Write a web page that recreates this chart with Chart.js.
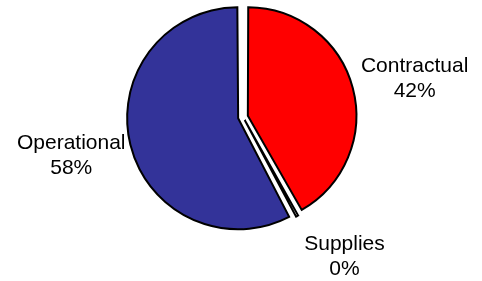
<!DOCTYPE html>
<html>
<head>
<meta charset="utf-8">
<script src="https://cdn.jsdelivr.net/npm/chart.js@4/dist/chart.umd.min.js"></script>
<style>
html,body{margin:0;padding:0;background:#fff;}
#wrap{width:482px;height:281px;}
</style>
</head>
<body>
<div id="wrap"><canvas id="c" width="482" height="281"></canvas></div>
<script>
const categories = ["Contractual", "Supplies", "Operational"];
const values = [42, 0.5, 58];
const percentLabels = ["42%", "0%", "58%"];
const colors = ["#FF0000", "#FFFFFF", "#333399"];

// label placement relative to slice geometry: [distance beyond radius, angle tweak in degrees]
const labelPlacement = [[70, 2.0], [66, -7.5], [70, 1.3]];

const outsideLabels = {
  id: 'outsideLabels',
  afterDatasetsDraw(chart) {
    const ctx = chart.ctx;
    const meta = chart.getDatasetMeta(0);
    ctx.save();
    ctx.font = '21px "Liberation Sans", Arial, sans-serif';
    ctx.fillStyle = '#000';
    ctx.textAlign = 'center';
    ctx.textBaseline = 'middle';
    meta.data.forEach((arc, i) => {
      const p = arc.getProps(['x', 'y', 'startAngle', 'endAngle', 'outerRadius'], true);
      const mid = (p.startAngle + p.endAngle) / 2 + labelPlacement[i][1] * Math.PI / 180;
      const d = p.outerRadius + labelPlacement[i][0];
      const lx = p.x + Math.cos(mid) * d;
      const ly = p.y + Math.sin(mid) * d;
      ctx.fillText(categories[i], lx, ly - 12);
      ctx.fillText(percentLabels[i], lx, ly + 13);
    });
    ctx.restore();
  }
};

new Chart(document.getElementById('c'), {
  type: 'pie',
  data: {
    labels: categories,
    datasets: [{
      data: values,
      backgroundColor: colors,
      borderColor: '#000000',
      borderWidth: 2,
      borderJoinStyle: 'miter',
      offset: [20, 14, 20],
      hoverOffset: 0
    }]
  },
  options: {
    responsive: false,
    animation: false,
    events: [],
    layout: { padding: { top: -2, bottom: 47, left: 4, right: 0 } },
    plugins: {
      legend: { display: false },
      tooltip: { enabled: false }
    }
  },
  plugins: [outsideLabels]
});
</script>
</body>
</html>
